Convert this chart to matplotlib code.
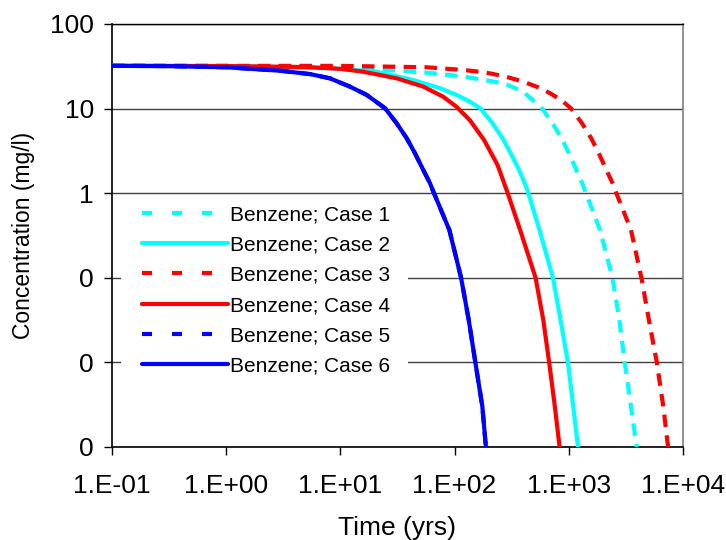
import numpy as np
import matplotlib
matplotlib.use("Agg")
import matplotlib.pyplot as plt
from matplotlib.lines import Line2D
from matplotlib.patches import Rectangle
from matplotlib.ticker import FixedLocator, FixedFormatter, NullLocator

plt.rcParams['font.family'] = ['Liberation Sans', 'DejaVu Sans']

# values (time in yrs, concentration in mg/l)
t_case1 = [0.1, 1, 5, 17.9, 57, 123, 270, 400, 586, 721, 865, 1005, 1165, 1312, 1415, 1878, 2412, 2774, 3090, 3505, 3937]
c_case1 = [32, 32, 31.5, 29.5, 26.6, 23.8, 19.9, 15.8, 10, 6.7, 4.46, 2.96, 1.88, 1.31, 1.0, 0.367, 0.1, 0.0317, 0.01, 0.003, 0.001]

t_case2 = [0.1, 1, 8.2, 20, 43.5, 74.5, 104, 136, 169, 215, 263, 310, 367, 412, 443, 554, 727, 847, 983, 1095, 1204]
c_case2 = [32, 31.9, 30, 27.5, 21.8, 17.4, 14.5, 12.1, 10, 6.7, 4.46, 2.96, 1.88, 1.31, 1.0, 0.367, 0.1, 0.0317, 0.01, 0.003, 0.001]

t_case3 = [0.1, 1, 10, 57, 123, 183, 270, 400, 543, 684, 861, 1050, 1305, 1572, 1832, 2135, 2420, 2610, 3505, 4325, 5030, 5900, 6720, 7400]
c_case3 = [32, 32, 32, 30.8, 28.5, 26.8, 24.2, 20.8, 17.8, 15.2, 12.6, 10, 6.7, 4.46, 2.96, 1.88, 1.31, 1.0, 0.367, 0.1, 0.0317, 0.01, 0.003, 0.001]

t_case4 = [0.1, 1, 5, 10, 15.8, 31.1, 53.2, 79.6, 104, 136, 181, 238, 292, 375, 512, 598, 673, 755, 831]
c_case4 = [32, 31.8, 31, 29.5, 27.3, 22.8, 18.2, 13.8, 10.5, 7.3, 4.26, 2.15, 1.0, 0.367, 0.1, 0.0317, 0.01, 0.003, 0.001]

t_case5 = [0.1, 0.3, 1.01, 3, 5.5, 8.1, 12.1, 17, 24.6, 31.1, 38.1, 45, 53.2, 60.9, 66, 90, 114, 133, 152, 175, 188]
c_case5 = [32, 31.8, 30.8, 28, 25.5, 22.8, 18.2, 14.5, 10.1, 6.7, 4.46, 2.96, 1.88, 1.31, 1.0, 0.367, 0.1, 0.0317, 0.01, 0.003, 0.001]

t_case6 = [0.1, 0.3, 1.01, 3, 5.5, 8.1, 12.1, 17, 24.6, 31.1, 38.1, 45, 53.2, 60.9, 66, 90, 114, 133, 152, 175, 188]
c_case6 = [32, 31.8, 30.8, 28, 25.5, 22.8, 18.2, 14.5, 10.1, 6.7, 4.46, 2.96, 1.88, 1.31, 1.0, 0.367, 0.1, 0.0317, 0.01, 0.003, 0.001]

labels = ['Benzene; Case 1', 'Benzene; Case 2', 'Benzene; Case 3',
          'Benzene; Case 4', 'Benzene; Case 5', 'Benzene; Case 6']
x_ticks = [0.1, 1, 10, 100, 1000, 10000]
x_ticklabels = ['1.E-01', '1.E+00', '1.E+01', '1.E+02', '1.E+03', '1.E+04']
y_ticks = [0.001, 0.01, 0.1, 1, 10, 100]
y_ticklabels = ['0', '0', '0', '1', '10', '100']

cyan = '#00FFFF'
red = '#FF0000'
blue = '#0000FF'
lw = 3.0
dash = (3, 2)

W, H = 726, 540
ax_l, ax_r, ax_t, ax_b = 112, 683, 24, 447

fig = plt.figure(figsize=(W/100, H/100), dpi=100)
ax = fig.add_axes([ax_l/W, 1-ax_b/H, (ax_r-ax_l)/W, (ax_b-ax_t)/H])

series = [(t_case1, c_case1, cyan, True), (t_case2, c_case2, cyan, False),
          (t_case3, c_case3, red, True), (t_case4, c_case4, red, False),
          (t_case5, c_case5, blue, True), (t_case6, c_case6, blue, False)]
handles = []
for (t, c, col, dashed), lab in zip(series, labels):
    if dashed:
        ax.plot(t, c, color=col, lw=lw, linestyle=(0, dash), dash_capstyle='butt', zorder=3)
        handles.append(Line2D([], [], color=col, lw=lw, linestyle=(0, (2.4, 4.8)),
                              dash_capstyle='butt', label=lab))
    else:
        ax.plot(t, c, color=col, lw=lw, solid_capstyle='round', zorder=3)
        handles.append(Line2D([], [], color=col, lw=lw, solid_capstyle='round', label=lab))

ax.set_xscale('log')
ax.set_yscale('log')
ax.set_xlim(0.1, 10000)
ax.set_ylim(0.001, 100)

ax.xaxis.set_major_locator(FixedLocator(x_ticks))
ax.xaxis.set_major_formatter(FixedFormatter(x_ticklabels))
ax.xaxis.set_minor_locator(NullLocator())
ax.yaxis.set_major_locator(FixedLocator(y_ticks))
ax.yaxis.set_major_formatter(FixedFormatter(y_ticklabels))
ax.yaxis.set_minor_locator(NullLocator())

ax.yaxis.grid(True, color='#404040', lw=1.0)
ax.set_axisbelow(True)
ax.tick_params(axis='both', direction='out', length=6, width=1, labelsize=19, color='black')
ax.tick_params(axis='x', pad=13.5)
ax.tick_params(axis='y', pad=7)

for s in ['left', 'bottom']:
    ax.spines[s].set_color('black')
    ax.spines[s].set_linewidth(1.2)
ax.spines['top'].set_color('black')
ax.spines['top'].set_linewidth(1.0)
ax.spines['right'].set_color('#808080')
ax.spines['right'].set_linewidth(1.2)

ax.set_xlabel('Time (yrs)', fontsize=19, labelpad=13)
ax.set_ylabel('Concentration (mg/l)', fontsize=16.5, labelpad=11)

# white block behind the legend, hides the gridlines like the reference
def px_to_ax(x, y):
    return (x - ax_l) / (ax_r - ax_l), (ax_b - y) / (ax_b - ax_t)

x0, y0 = px_to_ax(121, 382)
x1, y1 = px_to_ax(408, 198)
ax.add_patch(Rectangle((x0, y0), x1 - x0, y1 - y0, transform=ax.transAxes,
                       facecolor='white', edgecolor='none', zorder=1))

lx, ly = px_to_ax(136, 199)
leg = ax.legend(handles=handles, loc='upper left', bbox_to_anchor=(lx, ly),
                fontsize=15, frameon=False, handlelength=4.1,
                handletextpad=0.1, labelspacing=0.54, borderpad=0.3, borderaxespad=0)

fig.savefig('out.png', dpi=100)
